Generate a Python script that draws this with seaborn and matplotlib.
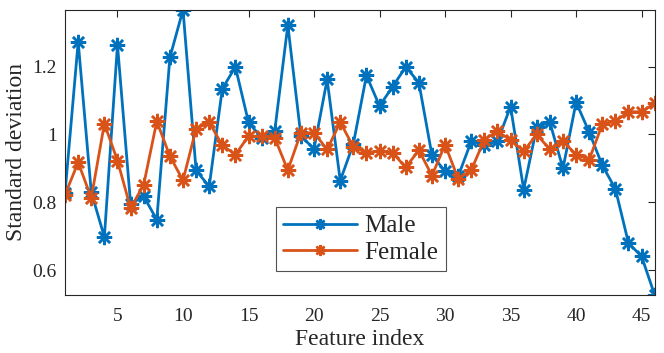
import numpy as np
import pandas as pd
import matplotlib
matplotlib.use("Agg")
import matplotlib.pyplot as plt
import seaborn as sns

# ─────────────────────────────────────────────
# DATA
# ─────────────────────────────────────────────
feature_index = list(range(1, 47))
male_std = [0.829, 1.273, 0.830, 0.698, 1.264, 0.796, 0.818, 0.749, 1.227, 1.367,
            0.894, 0.847, 1.135, 1.199, 1.036, 0.990, 1.010, 1.322, 0.995, 0.958,
            1.162, 0.864, 0.972, 1.174, 1.084, 1.141, 1.199, 1.153, 0.939, 0.892,
            0.877, 0.980, 0.970, 0.980, 1.082, 0.838, 1.022, 1.036, 0.900, 1.095,
            1.007, 0.909, 0.840, 0.680, 0.641, 0.527]
female_std = [0.823, 0.918, 0.813, 1.032, 0.923, 0.783, 0.852, 1.039, 0.936, 0.865,
              1.017, 1.036, 0.968, 0.941, 0.995, 0.995, 0.990, 0.895, 1.005, 1.005,
              0.956, 1.036, 0.964, 0.946, 0.951, 0.946, 0.903, 0.954, 0.879, 0.970,
              0.870, 0.895, 0.985, 1.010, 0.983, 0.951, 1.000, 0.956, 0.980, 0.941,
              0.926, 1.030, 1.039, 1.067, 1.067, 1.092]
series_names = ["Male", "Female"]
series_colors = ["#0072BD", "#D95319"]
x_ticks = [5, 10, 15, 20, 25, 30, 35, 40, 45]
y_ticks = [0.6, 0.8, 1.0, 1.2]
y_tick_labels = ["0.6", "0.8", "1", "1.2"]

df = pd.DataFrame({
    "Feature index": feature_index * 2,
    "Standard deviation": male_std + female_std,
    "Gender": ["Male"] * len(male_std) + ["Female"] * len(female_std),
})

sns.set_theme(style="white")
plt.rcParams["font.family"] = ["Liberation Serif", "DejaVu Serif"]

fig = plt.figure(figsize=(6.64, 3.53), dpi=100)
ax = fig.add_axes([0.098, 0.164, 0.888, 0.808])

sns.lineplot(
    data=df, x="Feature index", y="Standard deviation", hue="Gender",
    hue_order=series_names, palette=series_colors,
    marker=(8, 2, 0), markersize=11, linewidth=2, ax=ax, legend=False,
)
for line, c in zip(ax.get_lines(), series_colors):
    line.set_markeredgecolor(c)
    line.set_markerfacecolor(c)
    line.set_markeredgewidth(1.8)

ax.set_xlim(1, 46)
ax.set_ylim(min(male_std), max(male_std))
ax.set_xticks(x_ticks)
ax.set_yticks(y_ticks)
ax.set_yticklabels(y_tick_labels)
ax.tick_params(direction="in", length=5, width=0.8, top=True, right=True,
               labelsize=14, colors="#262626")
ax.tick_params(axis="x", pad=9)
ax.tick_params(axis="y", pad=6)
for s in ax.spines.values():
    s.set_visible(True)
    s.set_color("#262626")
    s.set_linewidth(0.8)

ax.set_xlabel("Feature index", fontsize=17, color="#262626", labelpad=3)
ax.set_ylabel("Standard deviation", fontsize=17, color="#262626", labelpad=4)

leg = ax.legend(ax.get_lines(), series_names, loc="lower left",
                bbox_to_anchor=(0.357, 0.084), borderaxespad=0, fontsize=18,
                frameon=True, fancybox=False, edgecolor="#262626",
                handlelength=2.95, borderpad=0.3, labelspacing=0.15,
                handletextpad=0.3)
leg.get_frame().set_linewidth(0.8)
for h in leg.legend_handles:
    h.set_markersize(8)

plt.savefig("out.png", dpi=100)
plt.close()
